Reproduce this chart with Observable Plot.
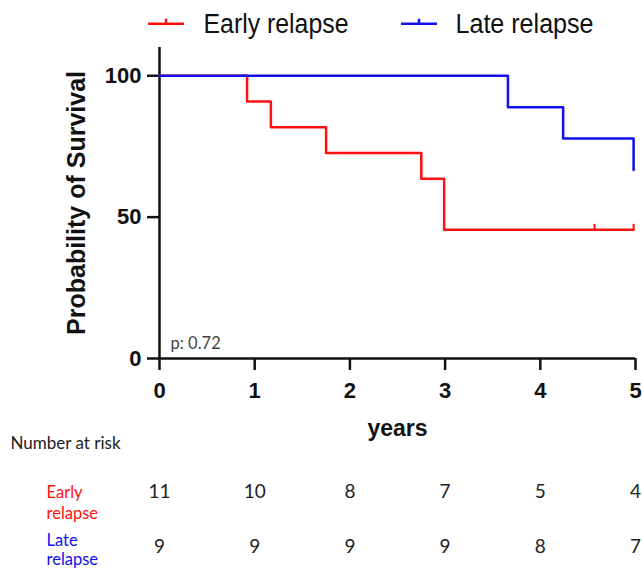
<!DOCTYPE html>
<html><head><meta charset="utf-8">
<script src="https://cdn.jsdelivr.net/npm/d3@7"></script>
<script src="https://cdn.jsdelivr.net/npm/@observablehq/plot@0.6"></script>
<style>body{margin:0;background:#fff} #chart svg{display:block}</style>
</head><body><div id="chart"></div>
<script>
// ---- data ----
const groups = ["Early relapse", "Late relapse"];
const colors = ["#ff1010", "#1010f0"];
const earlyTimes = [0, 0.92, 1.17, 1.75, 2.75, 2.99, 4.98];
const earlySurv  = [100, 90.9, 81.8, 72.7, 63.6, 45.5, 45.5];
const earlyCensorTimes = [4.57, 4.98];
const earlyCensorSurv  = [45.5, 45.5];
const lateTimes = [0, 3.66, 4.24, 4.98];
const lateSurv  = [100, 88.9, 77.8, 66.7];
const riskTimes = [0, 1, 2, 3, 4, 5];
const earlyRisk = [11, 10, 8, 7, 5, 4];
const lateRisk  = [9, 9, 9, 9, 8, 7];
const xTicks = [0, 1, 2, 3, 4, 5];
const yTicks = [0, 50, 100];
const riskRowLabels = ["Early\nrelapse", "Late\nrelapse"];
const pValueText = "p: 0.72";

// ---- tables built from arrays ----
const early = earlyTimes.map((t, i) => ({t, s: earlySurv[i]}));
const late = lateTimes.map((t, i) => ({t, s: lateSurv[i]}));
const earlyCensor = earlyCensorTimes.map((t, i) => ({t, s: earlyCensorSurv[i]}));
const riskEarly = riskTimes.map((t, i) => ({t, n: earlyRisk[i]}));
const riskLate = riskTimes.map((t, i) => ({t, n: lateRisk[i]}));

const censorTick = {draw(ctx) { ctx.moveTo(0, 0); ctx.lineTo(0, -6); }};
const legendGlyph = {draw(ctx) { ctx.moveTo(-18, 0); ctx.lineTo(18, 0); ctx.moveTo(0, 0); ctx.lineTo(0, -5); }};

const calib = "Lato, 'Open Sans', sans-serif";

const chart = Plot.plot({
  width: 642,
  height: 569,
  marginLeft: 159,
  marginRight: 7,
  marginTop: 47,
  marginBottom: 211,
  style: {fontFamily: "'Liberation Sans', Arial, sans-serif", background: "#fff", color: "#111"},
  x: {domain: [0, 5], axis: null},
  y: {domain: [0, 110], axis: null},
  marks: [
    // axes
    Plot.axisY(yTicks, {tickSize: 12, tickPadding: 6, fontSize: 22, fontWeight: "bold", strokeWidth: 2.5, label: null}),
    Plot.axisX(xTicks, {tickSize: 12, tickPadding: 12, fontSize: 22, fontWeight: "bold", strokeWidth: 2.5, label: null}),
    Plot.ruleX([0], {stroke: "#111", strokeWidth: 2.5}),
    Plot.ruleY([0], {stroke: "#111", strokeWidth: 2.5}),
    // axis titles
    Plot.text(["Probability of Survival"], {frameAnchor: "left", dx: -75, rotate: -90, lineAnchor: "bottom", textAnchor: "middle", fontSize: 25, fontWeight: "bold", fill: "#111"}),
    Plot.text(["years"], {frameAnchor: "bottom", dy: 77, lineAnchor: "bottom", fontSize: 23, fontWeight: "bold", fill: "#111"}),
    // survival curves
    Plot.line(early, {x: "t", y: "s", curve: "step-after", stroke: colors[0], strokeWidth: 2.5}),
    Plot.line(late, {x: "t", y: "s", curve: "step-after", stroke: colors[1], strokeWidth: 2.5}),
    Plot.dot(earlyCensor, {x: "t", y: "s", symbol: censorTick, fill: "none", stroke: colors[0], strokeWidth: 2}),
    // p value
    Plot.text([pValueText], {frameAnchor: "bottom-left", dx: 11, dy: -10, lineAnchor: "bottom", textAnchor: "start", fontSize: 16.5, fontFamily: calib, fill: "#444"}),
    // legend
    Plot.dot([0], {frameAnchor: "top-left", dx: 6.5, dy: -23.7, symbol: legendGlyph, fill: "none", stroke: colors[0], strokeWidth: 2.5}),
    Plot.text([groups[0]], {frameAnchor: "top-left", dx: 44, dy: -14.3, lineAnchor: "bottom", textAnchor: "start", fontSize: 27, fill: "#111"}),
    Plot.dot([0], {frameAnchor: "top-left", dx: 259.5, dy: -23.7, symbol: legendGlyph, fill: "none", stroke: colors[1], strokeWidth: 2.5}),
    Plot.text([groups[1]], {frameAnchor: "top-left", dx: 296, dy: -14.3, lineAnchor: "bottom", textAnchor: "start", fontSize: 27, fill: "#111"}),
    // number at risk table
    Plot.text(["Number at risk"], {frameAnchor: "bottom-left", dx: -149, dy: 90, lineAnchor: "bottom", textAnchor: "start", fontSize: 17, fontFamily: calib, fill: "#222"}),
    Plot.text([riskRowLabels[0]], {frameAnchor: "bottom-left", dx: -113, dy: 124.5, lineAnchor: "top", textAnchor: "start", lineHeight: 1.27, fontSize: 16.5, fontFamily: calib, fill: colors[0]}),
    Plot.text([riskRowLabels[1]], {frameAnchor: "bottom-left", dx: -113, dy: 174, lineAnchor: "top", textAnchor: "start", lineHeight: 1.15, fontSize: 16.5, fontFamily: calib, fill: colors[1]}),
    Plot.text(riskEarly, {x: "t", text: "n", frameAnchor: "bottom", dy: 139, lineAnchor: "bottom", fontSize: 19, fontFamily: calib, fill: "#222"}),
    Plot.text(riskLate, {x: "t", text: "n", frameAnchor: "bottom", dy: 194, lineAnchor: "bottom", fontSize: 19, fontFamily: calib, fill: "#222"})
  ]
});

// compress legend labels to the reference's condensed width
d3.select(chart).selectAll("text").each(function () {
  if (this.textContent === groups[0]) { this.setAttribute("textLength", 145); this.setAttribute("lengthAdjust", "spacingAndGlyphs"); }
  if (this.textContent === groups[1]) { this.setAttribute("textLength", 138); this.setAttribute("lengthAdjust", "spacingAndGlyphs"); }
});

document.getElementById("chart").appendChild(chart);
</script>
</body></html>
